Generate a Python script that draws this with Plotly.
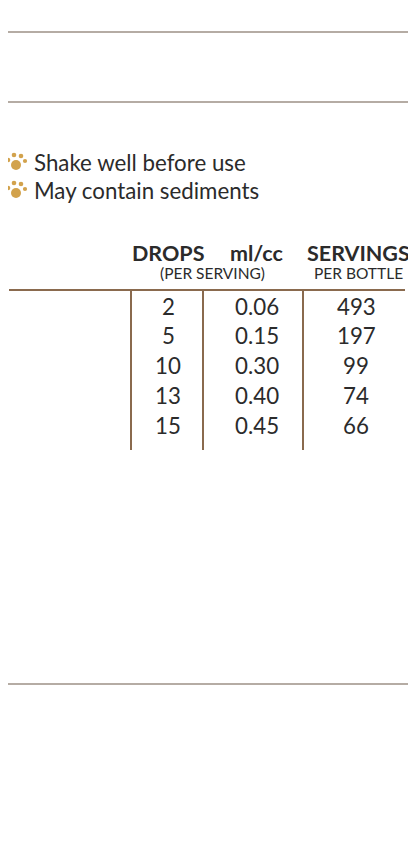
import plotly.graph_objects as go

weights = ["under 3 lbs", "3-10 lbs", "11-25 lbs", "26-80 lbs", "81-150 lbs"]
drops = ["2", "5", "10", "13", "15"]
mlcc = ["0.06", "0.15", "0.30", "0.40", "0.45"]
servings = ["493", "197", "99", "74", "66"]
bullets = ["Shake well before use", "May contain sediments"]
intro = ["For use in Dogs, Cats, Birds, Guinea Pigs,", "and Rabbits only."]
para1 = ["Dogs & Cats: give orally up to 2-times", "daily until no longer needed."]
para2 = ["Birds, Guinea Pigs, and Rabbits: add", "5-20 drops to fresh drinking water", "(minimum 8 ounces)."]
warning = ["For animal use only. Not intended for", "animals under 6 weeks of age. Keep out",
           "of reach of children and animals. In case", "of accidental overdose, contact a health",
           "professional immediately."]

FONT = "Lato"
TXT = "#2b2b2b"
BROWN = "#8a6a4e"
GREY = "#b5aca4"
GOLD = "#d2a24c"
BODY = 22.3
ann = []
def t(x, y, s, size=BODY, bold=False, anchor="left", color=TXT):
    ann.append(dict(x=x, y=y, text=(f"<b>{s}</b>" if bold else s), showarrow=False,
                    xanchor=anchor, yanchor="middle", xref="x", yref="y",
                    font=dict(family=FONT, size=size, color=color)))

t(5, 18, "<b>Product Facts</b> <span style='font-size:19px'>(continued)</span>", 22.5)
for i, s in enumerate(intro):
    t(5, 53 + 29 * i, s)
t(5, 123, "Direction for Use:", 22.5, True)
for i, s in enumerate(bullets):
    t(32, 162 + 28 * i, s)
t(5, 253, "WEIGHT", 21.5, True)
t(168, 253, "DROPS", 21.5, True, "center")
t(257, 253, "ml/cc", 21.5, True, "center")
t(358, 253, "SERVINGS", 21.5, True, "center")
t(212, 273, "(PER SERVING)", 15.5, False, "center")
t(358, 273, "PER BOTTLE", 15.5, False, "center")
for i in range(len(weights)):
    y = 306 + 29.8 * i
    t(5, y, weights[i])
    t(168, y, drops[i], anchor="center")
    t(257, y, mlcc[i], anchor="center")
    t(356, y, servings[i], anchor="center")
for i, s in enumerate(para1):
    t(5, 485 + 29 * i, s)
for i, s in enumerate(para2):
    t(5, 576 + 29 * i, s)
t(5, 711, "Warning:", 22.5, True)
for i, s in enumerate(warning):
    t(5, 740 + 29 * i, s)

shapes = []
def line(x0, y0, x1, y1, color, w):
    shapes.append(dict(type="line", x0=x0, y0=y0, x1=x1, y1=y1, xref="x", yref="y",
                       line=dict(color=color, width=w)))
line(0, 1, 416, 1, "#ddd6cf", 1.5)
line(0, 32, 416, 32, GREY, 2)
line(0, 102, 416, 102, GREY, 2)
line(0, 684, 416, 684, GREY, 2)
line(9, 290, 405, 290, BROWN, 2)
for x in (131, 203, 303):
    line(x, 290, x, 450, BROWN, 2)

def circ(cx, cy, r):
    shapes.append(dict(type="circle", x0=cx - r, x1=cx + r, y0=cy - r, y1=cy + r,
                       xref="x", yref="y", fillcolor=GOLD, line=dict(width=0)))
for i in range(len(bullets)):
    cy = 162 + 28 * i
    circ(16, cy + 3, 5)
    circ(8, cy - 2, 2.3)
    circ(14, cy - 7, 2.3)
    circ(21, cy - 6, 2.3)
    circ(25, cy - 1, 2.1)

fig = go.Figure()
fig.update_layout(width=408, height=860, margin=dict(l=0, r=0, t=0, b=0),
                  paper_bgcolor="white", plot_bgcolor="white",
                  xaxis=dict(range=[8, 416], visible=False, fixedrange=True),
                  yaxis=dict(range=[868, 8], visible=False, fixedrange=True),
                  annotations=ann, shapes=shapes, showlegend=False)
fig.write_html("out.html", config=dict(displayModeBar=False))
